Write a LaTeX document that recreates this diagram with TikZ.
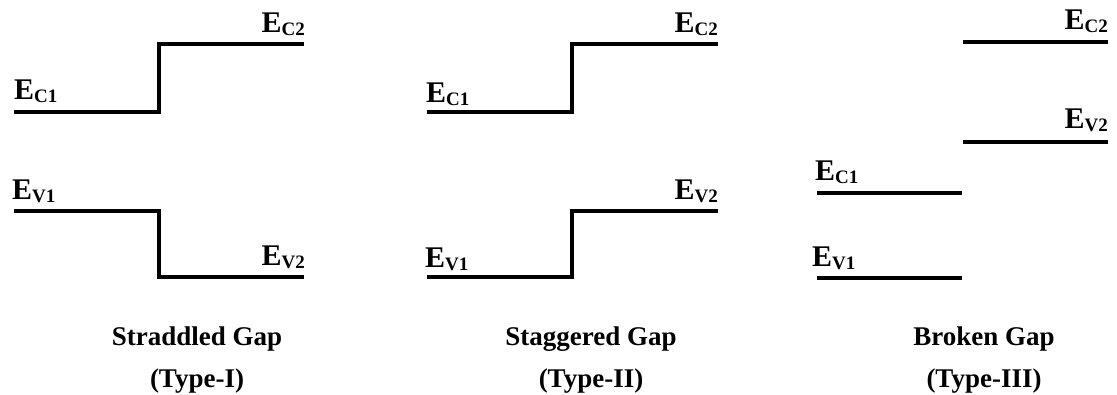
\documentclass[tikz,border=0pt]{standalone}
\usepackage{fontspec}
\setmainfont{Liberation Serif}
\newcommand\enlevel[1]{E\raisebox{-3pt}{\fontsize{19}{19}\selectfont #1}}
\tikzset{
  band/.style={line width=3.5pt, line join=miter},
  lvl/.style={inner sep=0pt, font=\bfseries\fontsize{30}{30}\selectfont},
  caption/.style={inner sep=0pt, align=center, anchor=base, font=\bfseries\fontsize{27}{42}\selectfont}
}
\begin{document}
\begin{tikzpicture}[x=1pt,y=-1pt]
\useasboundingbox (0,0) rectangle (1117,394);

% Type I: straddled gap
\coordinate (a1) at (14,112);  \coordinate (a2) at (159,112);
\coordinate (a3) at (159,44);  \coordinate (a4) at (304,44);
\coordinate (b1) at (14,211);  \coordinate (b2) at (159,211);
\coordinate (b3) at (159,277); \coordinate (b4) at (304,277);
\draw[band] (a1) -- (a2) -- (a3) -- (a4);
\draw[band] (b1) -- (b2) -- (b3) -- (b4);
\node[lvl, anchor=base west] (ec1a) at (14,99) {\enlevel{C1}};
\node[lvl, anchor=base east] (ec2a) at (305,32) {\enlevel{C2}};
\node[lvl, anchor=base west] (ev1a) at (12,199) {\enlevel{V1}};
\node[lvl, anchor=base east] (ev2a) at (305,265) {\enlevel{V2}};
\node[caption] (capa) at (197,387) {Straddled Gap\\(Type-I)};

% Type II: staggered gap
\coordinate (c1) at (427,112); \coordinate (c2) at (572,112);
\coordinate (c3) at (572,44);  \coordinate (c4) at (718,44);
\coordinate (d1) at (427,277); \coordinate (d2) at (572,277);
\coordinate (d3) at (572,211); \coordinate (d4) at (718,211);
\draw[band] (c1) -- (c2) -- (c3) -- (c4);
\draw[band] (d1) -- (d2) -- (d3) -- (d4);
\node[lvl, anchor=base west] (ec1b) at (426,102) {\enlevel{C1}};
\node[lvl, anchor=base east] (ec2b) at (718,32) {\enlevel{C2}};
\node[lvl, anchor=base west] (ev1b) at (425,267) {\enlevel{V1}};
\node[lvl, anchor=base east] (ev2b) at (718,199) {\enlevel{V2}};
\node[caption] (capb) at (591,387) {Staggered Gap\\(Type-II)};

% Type III: broken gap
\coordinate (e1) at (963,42);  \coordinate (e2) at (1108,42);
\coordinate (f1) at (963,142); \coordinate (f2) at (1108,142);
\coordinate (g1) at (817,193); \coordinate (g2) at (962,193);
\coordinate (h1) at (817,278); \coordinate (h2) at (962,278);
\draw[band] (e1) -- (e2);
\draw[band] (f1) -- (f2);
\draw[band] (g1) -- (g2);
\draw[band] (h1) -- (h2);
\node[lvl, anchor=base east] (ec2c) at (1108,29) {\enlevel{C2}};
\node[lvl, anchor=base east] (ev2c) at (1108,128) {\enlevel{V2}};
\node[lvl, anchor=base west] (ec1c) at (815,180) {\enlevel{C1}};
\node[lvl, anchor=base west] (ev1c) at (812,266) {\enlevel{V1}};
\node[caption] (capc) at (984,387) {Broken Gap\\(Type-III)};
\end{tikzpicture}
\end{document}
